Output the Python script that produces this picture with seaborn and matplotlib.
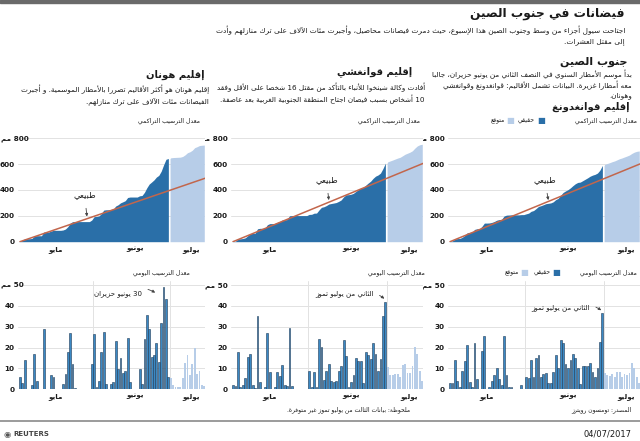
import re
import numpy as np
import pandas as pd
import matplotlib
matplotlib.use('Agg')
import matplotlib.pyplot as plt
from matplotlib.patches import Rectangle
import seaborn as sns

# ---------------- data (mm) ----------------
# actual: 1 May .. 2 July (63 days), forecast: following 15 days
days_actual = np.arange(63)
days_forecast = np.arange(63, 78)

gd_daily = [3, 3, 14, 4, 1, 9, 13.5, 21, 3.5, 1, 22, 5, 0, 18.5, 25.5, 0, 1, 4, 7, 10, 5, 2, 25.5, 7, 1, 1, 0, 0, 0, 2, 0,
            6, 5.5, 14, 6, 15, 16.5, 6, 7.5, 8, 3, 3, 8.5, 16.5, 10, 23.5, 22, 12, 10, 14, 17, 15, 10, 2.5, 11, 11, 11, 12.5, 8.5, 6, 10,
            22.5, 36.5]
gd_forecast = [8, 7, 6.5, 7.5, 6, 8.5, 8.5, 6, 7.5, 7, 8, 12.5, 10, 6, 3]

gx_daily = [2, 1.5, 18, 1, 2, 5.5, 15.5, 17, 2, 0.5, 35, 3.5, 0, 1, 27, 8.5, 0, 1, 8.5, 6.5, 11.5, 2, 1.5, 29.5, 1.5, 0, 0, 0, 0, 0, 0,
            9, 1, 8.5, 1, 24, 20.5, 4.5, 9, 12, 4, 3.5, 4, 9, 11, 23.5, 16, 1, 3.5, 7, 15, 13.5, 13.5, 3, 18, 16.5, 14.5, 22, 17, 9, 14.5,
            35, 42]
gx_forecast = [10.5, 7, 7, 7.5, 7.5, 6, 11.5, 12, 8, 8, 11, 20.5, 17, 9, 4]

hn_daily = [6, 3, 14, 0, 0, 2, 17, 4, 0, 0, 29, 0, 0, 7, 6, 0, 0, 0, 2.5, 7.5, 18, 27, 12, 0.5, 0, 0, 0, 0, 0, 0, 12,
            26.5, 1, 4, 18, 27.5, 2.5, 0, 2.5, 3.5, 23, 9.5, 15, 8, 9, 24.5, 3.5, 0, 0, 0, 9.5, 2.5, 24, 35.5, 29, 15.5, 16.5, 22, 13, 32, 49,
            43.5, 6]
hn_forecast = [5.5, 2, 1, 1, 1, 5.5, 12.5, 16.5, 7, 12, 20, 7.5, 9, 2, 1.5]

# "normal" cumulative rainfall line (start, end of the period)
normal_days = [0, 78]
gd_normal = [0, 607]
gx_normal = [0, 611]
hn_normal = [0, 495]

month_ticks = [15, 48, 71.5]
month_labels = ['مايو', 'يونيو', 'يوليو']

# ---------------- texts ----------------
title = 'فيضانات في جنوب الصين'
sub1 = 'اجتاحت سيول أجزاء من وسط وجنوب الصين هذا الإسبوع، حيث دمرت فيضانات محاصيل، وأجبرت مئات الآلاف على ترك منازلهم وأدت'
sub2 = 'إلى مقتل العشرات.'
south = 'جنوب الصين'
gd_head = 'إقليم قوانغدونغ'
gd_lines = ['بدأ موسم الأمطار السنوي في النصف الثاني من يونيو حزيران، جالبا',
            'معه أمطارا غزيرة. البيانات تشمل الأقاليم: قوانغدونغ وقوانغشي',
            'وهونان.']
gx_head = 'إقليم قوانغشي'
gx_lines = ['أفادت وكالة شينخوا للأنباء بالتأكد من مقتل 16 شخصا على الأقل وفقد',
            '10 أشخاص بسبب فيضان اجتاح المنطقة الجنوبية الغربية بعد عاصفة.']
hn_head = 'إقليم هونان'
hn_lines = ['إقليم هونان هو أكثر الأقاليم تضررا بالأمطار الموسمية. و أجبرت',
            'الفيضانات مئات الآلاف على ترك منازلهم.']
cum_label = 'معدل الترسيب التراكمي'
daily_label = 'معدل الترسيب اليومي'
actual_lbl = 'حقيقي'
forecast_lbl = 'متوقع'
normal_lbl = 'طبيعي'
jul2_lbl = 'الثاني من يوليو تموز'
jun30_lbl = '30 يونيو حزيران'
source = 'المصدر: تومسون رويترز'
footnote = 'ملحوظة: بيانات الثالث من يوليو تموز غير متوفرة.'
date_lbl = '04/07/2017'

# ---------------- minimal arabic shaping + rtl ----------------
FORMS = {
    'ء': (0xFE80, 0), 'آ': (0xFE81, 1), 'أ': (0xFE83, 1), 'ؤ': (0xFE85, 1), 'إ': (0xFE87, 1),
    'ئ': (0xFE89, 2), 'ا': (0xFE8D, 1), 'ب': (0xFE8F, 2), 'ة': (0xFE93, 1), 'ت': (0xFE95, 2),
    'ث': (0xFE99, 2), 'ج': (0xFE9D, 2), 'ح': (0xFEA1, 2), 'خ': (0xFEA5, 2), 'د': (0xFEA9, 1),
    'ذ': (0xFEAB, 1), 'ر': (0xFEAD, 1), 'ز': (0xFEAF, 1), 'س': (0xFEB1, 2), 'ش': (0xFEB5, 2),
    'ص': (0xFEB9, 2), 'ض': (0xFEBD, 2), 'ط': (0xFEC1, 2), 'ظ': (0xFEC5, 2), 'ع': (0xFEC9, 2),
    'غ': (0xFECD, 2), 'ف': (0xFED1, 2), 'ق': (0xFED5, 2), 'ك': (0xFED9, 2), 'ل': (0xFEDD, 2),
    'م': (0xFEE1, 2), 'ن': (0xFEE5, 2), 'ه': (0xFEE9, 2), 'و': (0xFEED, 1), 'ى': (0xFEEF, 1),
    'ي': (0xFEF1, 2),
}
LAM_ALEF = {'آ': 0xFEF5, 'أ': 0xFEF7, 'إ': 0xFEF9, 'ا': 0xFEFB}


def shape(s):
    out, i, prev = [], 0, False
    while i < len(s):
        c = s[i]
        if c not in FORMS:
            out.append(c)
            prev = False
            i += 1
            continue
        if c == 'ل' and i + 1 < len(s) and s[i + 1] in LAM_ALEF:
            out.append(chr(LAM_ALEF[s[i + 1]] + (1 if prev else 0)))
            prev = False
            i += 2
            continue
        base, kind = FORMS[c]
        nxt = s[i + 1] if i + 1 < len(s) else ''
        joins = kind == 2 and nxt in FORMS
        if kind == 0:
            form = base
        elif prev and joins:
            form = base + 3
        elif prev:
            form = base + 1
        elif joins:
            form = base + 2
        else:
            form = base
        out.append(chr(form))
        prev = joins
        i += 1
    return ''.join(out)


def ar(s):
    tokens = re.findall(r'[0-9A-Za-z]+(?:[./][0-9]+)*|.', shape(s))
    return ''.join(reversed(tokens))


# ---------------- style ----------------
sns.set_style('white')
plt.rcParams['font.family'] = ['DejaVu Sans']
DARK = '#2a6fa8'
BAR = '#3b89c4'
EDGE = '#1f3a55'
LIGHT = '#b7cde8'
NORMAL = '#c2664c'
GRID = '#e2e2e2'
TXT = '#1a1a1a'

W, H = 640, 441
fig = plt.figure(figsize=(6.4, 4.41), dpi=100)


def fx(x):
    return x / W


def fy(y):
    return 1 - y / H


def ftext(x, y, s, size=5, ha='right', weight='normal', color=TXT):
    fig.text(fx(x), fy(y), s, ha=ha, va='center', fontsize=size, fontweight=weight, color=color)


# top bar and footer rule
fig.patches.append(Rectangle((0, fy(3)), 1, 3 / H, transform=fig.transFigure, color='#6a6a6a'))
fig.lines.append(plt.Line2D([0, 1], [fy(421), fy(421)], transform=fig.transFigure, color='#8a8a8a', lw=1.2))

ftext(625, 13, ar(title), size=8.8, weight='bold')
ftext(625, 30, ar(sub1), size=5.3)
ftext(625, 42, ar(sub2), size=5.3)
ftext(628, 62, ar(south), size=8, weight='bold')
for k, line in enumerate(gd_lines):
    ftext(632, 74 + 11 * k, ar(line), size=5.2)
ftext(630, 107, ar(gd_head), size=7.2, weight='bold')
ftext(412, 72, ar(gx_head), size=7.2, weight='bold')
for k, line in enumerate(gx_lines):
    ftext(425, 87 + 12 * k, ar(line), size=5.2)
ftext(205, 75, ar(hn_head), size=7.2, weight='bold')
for k, line in enumerate(hn_lines):
    ftext(209, 89 + 12 * k, ar(line), size=5.2)

# legends / chart labels
ftext(637, 121, ar(cum_label), size=4.4)
ftext(541, 121, '■', size=6, ha='center', color=DARK)
ftext(535, 121, ar(actual_lbl), size=4.4)
ftext(510, 121, '■', size=6, ha='center', color=LIGHT)
ftext(505, 121, ar(forecast_lbl), size=4.4)
ftext(420, 121, ar(cum_label), size=4.4)
ftext(200, 121, ar(cum_label), size=4.4)

ftext(637, 273, ar(daily_label), size=4.4)
ftext(556, 273, '■', size=6, ha='center', color=DARK)
ftext(551, 273, ar(actual_lbl), size=4.4)
ftext(524, 273, '■', size=6, ha='center', color=LIGHT)
ftext(519, 273, ar(forecast_lbl), size=4.4)
ftext(425, 273, ar(daily_label), size=4.4)
ftext(190, 273, ar(daily_label), size=4.4)

ftext(632, 410, ar(source), size=4.3)
ftext(410, 410, ar(footnote), size=4.3)
ftext(632, 434, date_lbl, size=6)
ftext(4, 434, '◉', size=6, ha='left', color='#555555')
ftext(13, 434, 'REUTERS', size=5, ha='left', weight='bold', color='#444444')

# ---------------- charts ----------------
regions = [
    # x0, x1, daily, forecast, normal, normal text, normal tip, note text xy, note tip, note label, left column
    (448, 640, gd_daily, gd_forecast, gd_normal, (38.6, 477), (40, 322), (57, 39), (62, 37.5), jul2_lbl, False),
    (231, 423, gx_daily, gx_forecast, gx_normal, (38, 477), (39, 322), (57.3, 46), (62, 43), jul2_lbl, False),
    (18, 205, hn_daily, hn_forecast, hn_normal, (27, 361), (28, 195), (51, 46), (57, 46), jun30_lbl, True),
]

cum_ticks = [0, 200, 400, 600, 800]
day_ticks = [0, 10, 20, 30, 40, 50]


def style_axis(ax, ticks, top_label, ymax, left_col):
    ax.set_xlim(-0.8, 77.3)
    ax.set_ylim(0, ymax)
    ax.set_yticks(ticks)
    top = '' if left_col else ar(top_label)
    ax.set_yticklabels([str(t) for t in ticks[:-1]] + [top])
    ax.set_xticks(month_ticks)
    ax.set_xticklabels([ar(m) for m in month_labels])
    ax.tick_params(axis='both', length=0, labelsize=5.2, labelcolor=TXT)
    ax.tick_params(axis='y', pad=2.5)
    ax.tick_params(axis='x', pad=3)
    for lab in ax.get_xticklabels() + ax.get_yticklabels():
        lab.set_fontweight('bold')
    if left_col:
        # keep the top label inside the figure, flush with its left edge
        ax.annotate(ar(top_label), xy=(0, ticks[-1]), xycoords=('figure pixels', 'data'),
                    xytext=(1, 0), textcoords='offset pixels', ha='left', va='center',
                    fontsize=5.2, fontweight='bold', color=TXT, annotation_clip=False)
    for sp in ax.spines.values():
        sp.set_visible(False)
    ax.grid(axis='y', color=GRID, lw=0.7)
    ax.set_axisbelow(True)
    ax.set_xlabel('')
    ax.set_ylabel('')


for x0, x1, daily, forecast, normal, ntext, ntip, dtext, dtip, dlabel, left_col in regions:
    # cumulative chart
    ax = fig.add_axes([fx(x0), fy(241.7), (x1 - x0) / W, (241.7 - 135.7) / H])
    cum = np.cumsum(daily)
    ax.fill_between(np.concatenate([[-0.5], days_actual]), 0, np.concatenate([[0], cum]),
                    color=DARK, lw=0, zorder=2)
    fc = cum[-1] + np.cumsum(forecast)
    ax.fill_between(np.concatenate([[62.7], days_forecast]), 0, np.concatenate([[cum[-1]], fc]),
                    color=LIGHT, lw=0, zorder=2)
    sns.lineplot(x=normal_days, y=normal, color=NORMAL, lw=1.1, ax=ax, zorder=3)
    ax.annotate(ar(normal_lbl), xy=ntip, xytext=ntext, ha='center', va='center', fontsize=6, color=TXT,
                arrowprops=dict(arrowstyle='-|>', color='#444444', lw=0.6, mutation_scale=4, shrinkA=4, shrinkB=0),
                zorder=5)
    style_axis(ax, cum_ticks, '800 مم', 820, left_col)

    # daily chart
    ax2 = fig.add_axes([fx(x0), fy(389.3), (x1 - x0) / W, (389.3 - 280.8) / H])
    df_a = pd.DataFrame({'day': days_actual, 'mm': daily})
    df_f = pd.DataFrame({'day': days_forecast, 'mm': forecast})
    sns.barplot(data=df_a, x='day', y='mm', native_scale=True, color=BAR, saturation=1,
                edgecolor=EDGE, linewidth=0.4, width=0.75, ax=ax2, zorder=2)
    sns.barplot(data=df_f, x='day', y='mm', native_scale=True, color=LIGHT, saturation=1,
                linewidth=0, width=0.75, ax=ax2, zorder=2)
    for xv in (30.5, 62.5):
        ax2.axvline(xv, color=GRID, lw=0.7, zorder=1)
    ax2.annotate(ar(dlabel), xy=dtip, xytext=dtext, ha='right', va='center', fontsize=5, color=TXT,
                 arrowprops=dict(arrowstyle='-|>', color='#444444', lw=0.6, mutation_scale=4,
                                 shrinkA=2, shrinkB=1, connectionstyle='arc3,rad=-0.3'),
                 zorder=5)
    style_axis(ax2, day_ticks, '50 مم', 52, left_col)

fig.savefig('out.png', dpi=100)
